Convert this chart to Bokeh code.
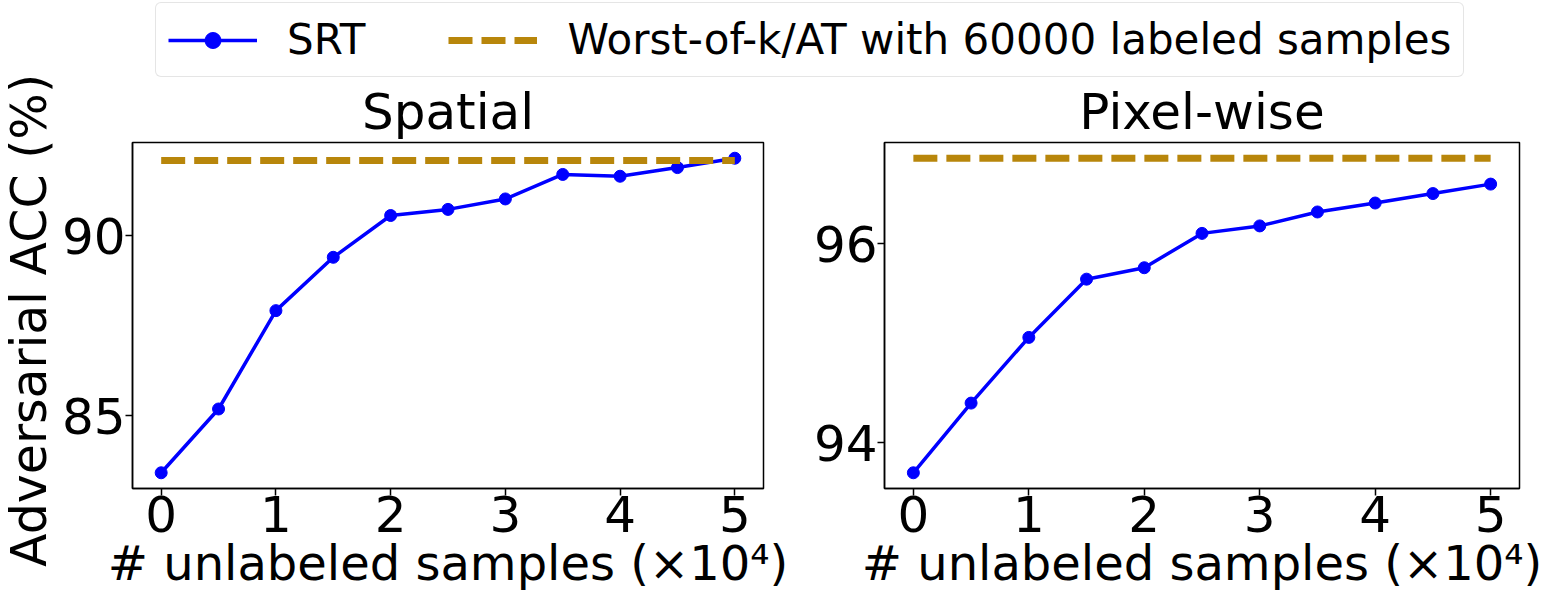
import math
from bokeh.plotting import figure
from bokeh.models import Range1d, Legend, LegendItem, Label
from bokeh.layouts import column, row
from bokeh.embed import file_html
from bokeh.resources import INLINE

# ---- data ----
x_units = [0, 0.5, 1, 1.5, 2, 2.5, 3, 3.5, 4, 4.5, 5]
spatial_srt = [83.42, 85.19, 87.92, 89.40, 90.56, 90.73, 91.02, 91.70, 91.65, 91.89, 92.15]
spatial_baseline = 92.09
pixel_srt = [93.70, 94.40, 95.06, 95.645, 95.76, 96.105, 96.18, 96.32, 96.41, 96.505, 96.60]
pixel_baseline = 96.86
x_ticks = [0, 1, 2, 3, 4, 5]
spatial_yticks = [85, 90]
pixel_yticks = [94, 96]
titles = ["Spatial", "Pixel-wise"]
series_labels = ["SRT", "Worst-of-k/AT with 60000 labeled samples"]
x_label = "# unlabeled samples (\u00d710\u2074)"
y_label = "Adversarial ACC (%)"

FONT = "DejaVu Sans"
BLUE = "#0000ff"
GOLD = "#b8860b"
TOTAL_W = 1548
TOTAL_H = 593
STRIP_W = 58
LEG_H = 78
PLOT_H = TOTAL_H - LEG_H
P1_W = 750


def make_panel(title, srt, base, yticks, width, bl, br):
    lo = min(min(srt), base)
    hi = max(max(srt), base)
    pad = (hi - lo) * 0.05
    xpad = (max(x_units) - min(x_units)) * 0.05
    p = figure(width=width, height=PLOT_H,
               x_range=Range1d(min(x_units) - xpad, max(x_units) + xpad),
               y_range=Range1d(lo - pad, hi + pad),
               output_backend="svg", toolbar_location=None,
               min_border_left=bl, min_border_right=br,
               min_border_top=62, min_border_bottom=104)
    p.title.text = title
    p.title.align = "center"
    p.title.text_font = FONT
    p.title.text_font_size = "50px"
    p.title.text_font_style = "normal"
    p.title.text_color = "black"
    p.title.standoff = 4
    p.grid.visible = False
    p.outline_line_color = "black"
    p.outline_line_width = 1.5
    p.xaxis.ticker = x_ticks
    p.yaxis.ticker = yticks
    p.xaxis.axis_label = x_label
    for ax in (p.xaxis[0], p.yaxis[0]):
        ax.axis_line_color = "black"
        ax.axis_line_width = 1.5
        ax.major_tick_out = 7
        ax.major_tick_in = 0
        ax.major_tick_line_width = 1.5
        ax.major_tick_line_color = "black"
        ax.minor_tick_line_color = None
        ax.major_label_text_font = FONT
        ax.major_label_text_font_size = "50px"
        ax.major_label_text_color = "black"
        ax.major_label_standoff = 0
        ax.axis_label_text_font = FONT
        ax.axis_label_text_font_size = "48px"
        ax.axis_label_text_font_style = "normal"
        ax.axis_label_text_color = "black"
        ax.axis_label_standoff = 0
    p.line(x_units, srt, line_color=BLUE, line_width=3.5)
    p.scatter(x_units, srt, size=12, fill_color=BLUE, line_color=BLUE)
    p.line([x_units[0], x_units[-1]], [base, base], line_color=GOLD,
           line_width=7, line_dash="24 9")
    return p


p1 = make_panel(titles[0], spatial_srt, spatial_baseline, spatial_yticks, P1_W, 70, 45)
p2 = make_panel(titles[1], pixel_srt, pixel_baseline, pixel_yticks, TOTAL_W - STRIP_W - P1_W, 76, 29)

# shared y-axis label strip (its own canvas so that the long label is not clipped)
ys = figure(width=STRIP_W, height=TOTAL_H, x_range=Range1d(0, 1), y_range=Range1d(0, 1),
            output_backend="svg", toolbar_location=None,
            x_axis_location=None, y_axis_location=None, min_border=0)
ys.grid.visible = False
ys.outline_line_color = None
ys.add_layout(Label(x=29, y=TOTAL_H - 320, x_units="screen", y_units="screen",
                    text=y_label, angle=math.pi / 2, text_align="center",
                    text_baseline="middle", text_font=FONT,
                    text_font_size="49px", text_color="black"))

# legend strip
lf = figure(width=TOTAL_W - STRIP_W, height=LEG_H, x_range=Range1d(0, 1), y_range=Range1d(0, 1),
            output_backend="svg", toolbar_location=None,
            x_axis_location=None, y_axis_location=None, min_border=0)
lf.grid.visible = False
lf.outline_line_color = None
r1 = lf.line([5, 6], [5, 6], line_color=BLUE, line_width=3.5)
r2 = lf.scatter([5], [5], size=12, fill_color=BLUE, line_color=BLUE)
r3 = lf.line([5, 6], [5, 6], line_color=GOLD, line_width=7, line_dash="24 9")
legend = Legend(items=[LegendItem(label=series_labels[0], renderers=[r1, r2]),
                       LegendItem(label=series_labels[1], renderers=[r3])],
                orientation="horizontal", location=(155 - STRIP_W, 1),
                glyph_width=89, glyph_height=40, label_standoff=30, spacing=83,
                padding=12, margin=0,
                label_text_font=FONT, label_text_font_size="42px", label_text_color="black",
                border_line_color="#cccccc", border_line_width=1.5,
                background_fill_color="white", background_fill_alpha=1.0)
if "border_radius" in Legend.properties():
    legend.border_radius = 6
lf.add_layout(legend, "center")

layout = row(ys, column(lf, row(p1, p2)))
open("out.html", "w").write(file_html(layout, INLINE))
